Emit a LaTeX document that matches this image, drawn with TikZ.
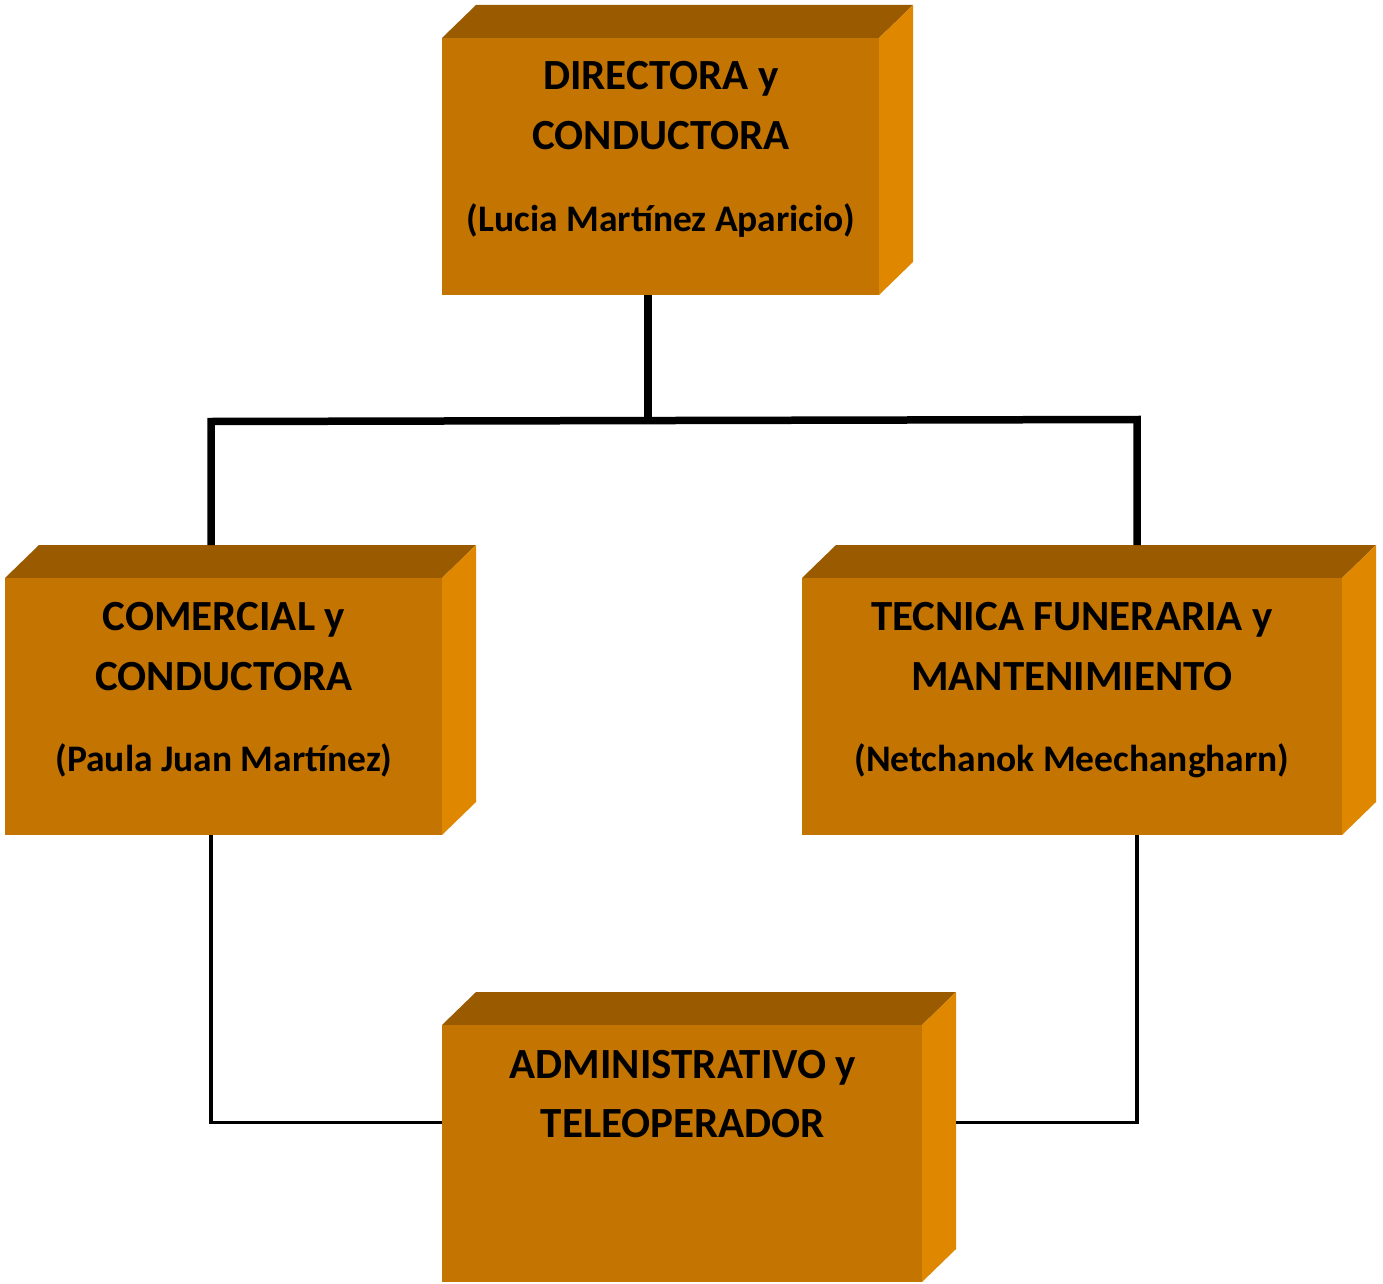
\documentclass[tikz,border=0pt]{standalone}
\usepackage{fontspec}
\setmainfont{Carlito}
\definecolor{topc}{HTML}{9A5B00}
\definecolor{frontc}{HTML}{C47400}
\definecolor{sidec}{HTML}{E08700}
\newcommand\orgbox[5]{%
  \fill[topc] (#2,#3) -- ({#2+34},{#3-33}) -- ({#4+34},{#3-33}) -- (#4,#3) -- cycle;
  \fill[sidec] (#4,#3) -- ({#4+34},{#3-33}) -- ({#4+34},{#5-33}) -- (#4,#5) -- cycle;
  \node[front, minimum width={(#4-#2)*1pt}, minimum height={(#5-#3)*1pt}] (#1) at ({(#2+#4)/2},{(#3+#5)/2}) {};
}
\begin{document}
\begin{tikzpicture}[x=1pt,y=-1pt,
  front/.style={fill=frontc, draw=none, inner sep=0pt, outer sep=0pt, rectangle},
  lbl/.style={font=\fontsize{43}{50}\selectfont\bfseries, anchor=base, inner sep=0pt},
  sublbl/.style={font=\fontsize{37.5}{44}\selectfont\bfseries, anchor=base, inner sep=0pt},
  thickln/.style={line width=7.5pt, line join=miter},
  thinln/.style={line width=3.5pt, line join=miter}]
\useasboundingbox (0,0) rectangle (1383,1284);

\orgbox{dir}{442}{38}{879}{295}
\orgbox{com}{5}{578}{442}{835}
\orgbox{tec}{802}{578}{1342}{835}
\orgbox{adm}{442}{1025}{922}{1282}

% labels
\node[lbl] (dir1) at (661,90) {DIRECTORA y};
\node[lbl] (dir2) at (661,150) {CONDUCTORA};
\node[sublbl] (dir3) at (661,231) {(Lucia Martínez Aparicio)};

\node[lbl] (com1) at (224,630) {COMERCIAL y};
\node[lbl] (com2) at (224,690) {CONDUCTORA};
\node[sublbl] (com3) at (224,771) {(Paula Juan Martínez)};

\node[lbl] (tec1) at (1072,630) {TECNICA FUNERARIA y};
\node[lbl] (tec2) at (1072,690) {MANTENIMIENTO};
\node[sublbl] (tec3) at (1072,771) {(Netchanok Meechangharn)};

\node[lbl] (adm1) at (683,1078) {ADMINISTRATIVO y};
\node[lbl] (adm2) at (683,1137) {TELEOPERADOR};

% connectors
\coordinate (jc) at (648,420.5);
\coordinate (jl) at (211,421.5);
\coordinate (jr) at (1137,419.5);
\coordinate (comtop) at (211,545);
\coordinate (tectop) at (1137,545);
\draw[thickln] (dir.south -| jc) -- (jc);
\draw[thickln] (comtop) -- (jl) -- (jr) -- (tectop);

\coordinate (bl) at (211,1122.5);
\coordinate (br) at (1137,1122.5);
\coordinate (admside) at (956,1122.5);
\draw[thinln] (com.south -| bl) -- (bl) -- (adm.west |- bl);
\draw[thinln] (tec.south -| br) -- (br) -- (admside);
\end{tikzpicture}
\end{document}
